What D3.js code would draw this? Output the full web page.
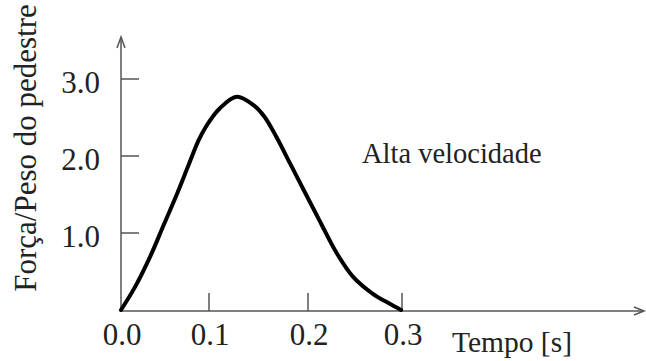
<!DOCTYPE html>
<html>
<head>
<meta charset="utf-8">
<script src="https://cdn.jsdelivr.net/npm/d3@7"></script>
<style>
  body { margin: 0; background: #fff; }
  text { font-family: 'Liberation Serif', 'Times New Roman', serif; fill: #222; }
</style>
</head>
<body>
<div class="container"></div>
<script>
// values (time in s, force / body weight)
let times = [0, 0.016, 0.033, 0.048, 0.063, 0.076, 0.088, 0.097, 0.111, 0.128, 0.145, 0.156, 0.168, 0.182, 0.198, 0.214, 0.23, 0.248, 0.269, 0.287, 0.299];
let forces = [0, 0.3, 0.69, 1.09, 1.49, 1.86, 2.2, 2.39, 2.62, 2.77, 2.66, 2.51, 2.25, 1.9, 1.5, 1.12, 0.75, 0.43, 0.21, 0.08, 0];
let xTicks = [0, 0.1, 0.2, 0.3];
let yTicks = [1, 2, 3];
let xTickLabels = ['0.0', '0.1', '0.2', '0.3'];
let yTickLabels = ['1.0', '2.0', '3.0'];

let width = 646;
let height = 361;

let svg = d3
  .select('.container')
  .append('svg')
  .attr('width', width)
  .attr('height', height);

// the printed axis is not quite even, so the scale is piecewise
let x = d3.scaleLinear().domain([0, 0.1, 0.2, 0.3]).range([121, 209, 308, 402]);
let y = d3.scaleLinear().domain([0, 3]).range([310, 79]);

let axisColor = '#555';

// y axis with arrow
svg.append('line')
  .attr('x1', x(0)).attr('x2', x(0))
  .attr('y1', y(0)).attr('y2', 38)
  .attr('stroke', axisColor).attr('stroke-width', 1.5);
svg.append('path')
  .attr('d', 'M' + (x(0) - 4) + ',' + 48 + 'L' + x(0) + ',' + 37 + 'L' + (x(0) + 4) + ',' + 48)
  .attr('fill', 'none').attr('stroke', axisColor).attr('stroke-width', 1.5);

// x axis with arrow
svg.append('line')
  .attr('x1', x(0)).attr('x2', 643)
  .attr('y1', y(0) + 1).attr('y2', y(0) + 1)
  .attr('stroke', axisColor).attr('stroke-width', 1.5);
svg.append('path')
  .attr('d', 'M' + 634 + ',' + (y(0) - 3) + 'L' + 644 + ',' + (y(0) + 1) + 'L' + 634 + ',' + (y(0) + 5))
  .attr('fill', 'none').attr('stroke', axisColor).attr('stroke-width', 1.5);

// ticks
svg.append('g')
  .selectAll('line')
  .data(yTicks)
  .enter()
  .append('line')
  .attr('x1', x(0)).attr('x2', x(0) + 18)
  .attr('y1', (d) => y(d)).attr('y2', (d) => y(d))
  .attr('stroke', axisColor).attr('stroke-width', 1.5);

svg.append('g')
  .selectAll('line')
  .data(xTicks.slice(1))
  .enter()
  .append('line')
  .attr('x1', (d) => x(d)).attr('x2', (d) => x(d))
  .attr('y1', y(0) + 1).attr('y2', y(0) - 17)
  .attr('stroke', axisColor).attr('stroke-width', 1.5);

// tick labels
svg.append('g')
  .selectAll('text')
  .data(yTicks)
  .enter()
  .append('text')
  .attr('x', 100)
  .attr('y', (d) => y(d) + 14)
  .attr('text-anchor', 'end')
  .style('font-size', '31px')
  .text((d, i) => yTickLabels[i]);

svg.append('g')
  .selectAll('text')
  .data(xTicks)
  .enter()
  .append('text')
  .attr('x', (d) => x(d) + 1)
  .attr('y', 345)
  .attr('text-anchor', 'middle')
  .style('font-size', '31px')
  .text((d, i) => xTickLabels[i]);

// axis titles and annotation
svg.append('text')
  .attr('transform', 'translate(36,148) rotate(-90)')
  .attr('text-anchor', 'middle')
  .style('font-size', '31px')
  .text('Força/Peso do pedestre');

svg.append('text')
  .attr('x', 452)
  .attr('y', 352)
  .style('font-size', '29.5px')
  .text('Tempo [s]');

svg.append('text')
  .attr('x', 362)
  .attr('y', 163)
  .style('font-size', '28.5px')
  .text('Alta velocidade');

// force curve
let line = d3
  .line()
  .x((d, i) => x(times[i]))
  .y((d) => y(d))
  .curve(d3.curveCatmullRom);

svg.append('path')
  .datum(forces)
  .attr('d', line)
  .attr('fill', 'none')
  .attr('stroke', '#000')
  .attr('stroke-width', 4)
  .attr('stroke-linejoin', 'round')
  .attr('stroke-linecap', 'round');
</script>
</body>
</html>
